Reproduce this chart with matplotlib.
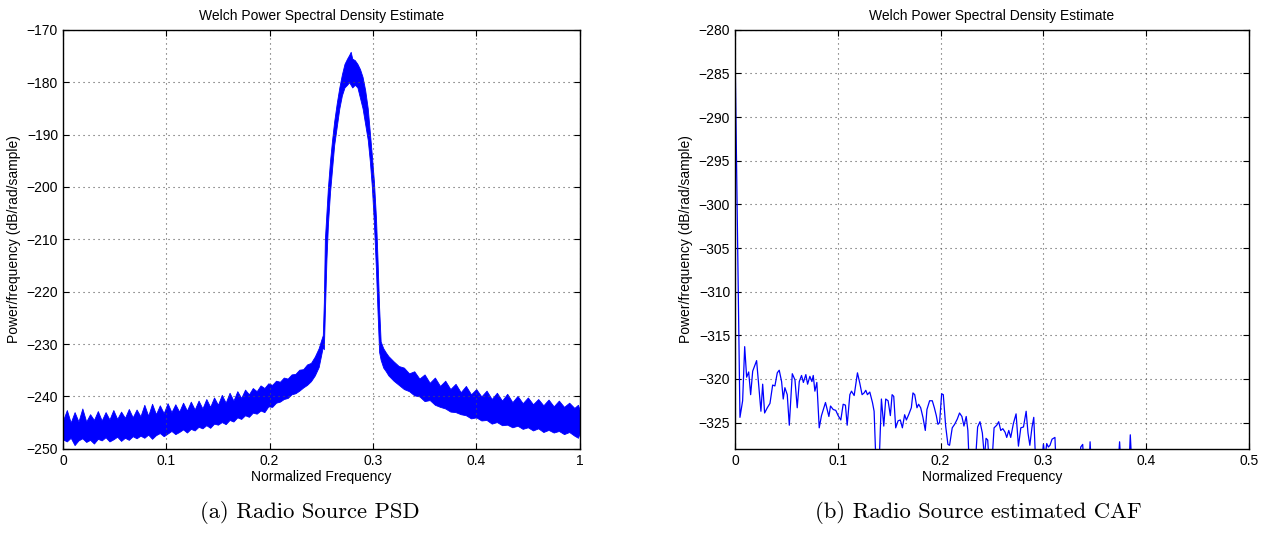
import numpy as np
import matplotlib
matplotlib.use("Agg")
import matplotlib.pyplot as plt
from matplotlib import rcParams

rcParams['font.family'] = 'Liberation Sans'
rcParams['font.size'] = 10
rcParams['axes.unicode_minus'] = True

# ---- (a) PSD band: frequency grid with lower / upper edge of the noisy trace (dB/rad/sample)
psd_freq = [
    0.0, 0.00375, 0.0075, 0.01125, 0.015, 0.01875, 0.0225, 0.02625, 0.03, 0.03375,
    0.0375, 0.04125, 0.045, 0.04875, 0.0525, 0.05625, 0.06, 0.06375, 0.0675, 0.07125,
    0.075, 0.07875, 0.0825, 0.08625, 0.09, 0.09375, 0.0975, 0.10125, 0.105, 0.10875,
    0.1125, 0.11625, 0.12, 0.12375, 0.1275, 0.13125, 0.135, 0.13875, 0.1425, 0.14625,
    0.15, 0.15375, 0.1575, 0.16125, 0.165, 0.16875, 0.1725, 0.17625, 0.18, 0.18375,
    0.1875, 0.19125, 0.195, 0.19875, 0.2025, 0.20625, 0.21, 0.21375, 0.2175, 0.22125,
    0.225, 0.22875, 0.2325, 0.23625, 0.24, 0.24375, 0.2475, 0.25, 0.2515,
    0.2525, 0.2535, 0.255, 0.2565, 0.2585, 0.2605, 0.2625, 0.265, 0.2675, 0.27,
    0.2725, 0.275, 0.277, 0.2785, 0.28, 0.2825, 0.285, 0.2875, 0.29, 0.2925,
    0.295, 0.297, 0.299, 0.301, 0.303, 0.3045, 0.306,
    0.3075, 0.31, 0.3125, 0.315, 0.32, 0.325,
    0.33, 0.335, 0.34, 0.345, 0.35, 0.355, 0.36, 0.365, 0.37, 0.375,
    0.38, 0.385, 0.39, 0.395, 0.40, 0.405, 0.41, 0.415, 0.42, 0.425,
    0.43, 0.435, 0.44, 0.445, 0.45, 0.455, 0.46, 0.465, 0.47, 0.475,
    0.48, 0.485, 0.49, 0.495, 0.4985, 0.5,
]
psd_high = [
    -244.6, -242.6, -245.0, -243.0, -244.8, -242.3, -244.8, -243.4, -244.5, -242.8,
    -244.6, -243.0, -244.4, -242.6, -244.3, -242.9, -244.1, -242.4, -244.0, -242.5,
    -243.8, -241.6, -243.7, -241.4, -243.4, -241.7, -243.2, -241.3, -243.0, -241.5,
    -242.9, -241.2, -242.7, -241.0, -242.5, -240.8, -242.3, -240.5, -242.0, -240.2,
    -241.6, -239.7, -241.2, -239.3, -240.8, -239.0, -240.3, -238.7, -239.6, -238.4,
    -239.0, -237.9, -238.4, -237.5, -237.8, -237.0, -237.2, -236.4, -236.6, -235.8,
    -235.7, -234.9, -234.8, -233.9, -233.6, -232.4, -230.8, -229.2, -228.3,
    -222.0, -210.0, -205.0, -200.0, -195.0, -191.0, -187.5, -184.0, -181.0, -178.5,
    -176.5, -175.5, -174.8, -174.2, -175.5, -175.8, -176.5, -177.5, -179.0, -181.5,
    -185.0, -189.5, -194.0, -199.0, -206.0, -214.0, -223.0,
    -229.5, -230.8, -231.6, -232.3, -233.3, -234.2,
    -234.5, -235.6, -235.2, -236.6, -235.8, -237.4, -236.4, -238.0, -237.0, -238.6,
    -237.6, -239.2, -238.0, -239.6, -238.6, -240.0, -238.9, -240.5, -239.3, -240.8,
    -239.5, -241.1, -239.9, -241.3, -240.2, -241.5, -240.5, -241.7, -240.6, -241.9,
    -240.8, -242.0, -241.2, -242.2, -241.6, -242.5,
]
psd_low = [
    -248.2, -248.6, -247.9, -249.3, -248.4, -248.0, -248.7, -248.3, -249.0, -248.1,
    -248.4, -247.8, -248.6, -248.2, -247.7, -248.5, -247.9, -248.3, -247.6, -248.0,
    -247.5, -247.9, -247.3, -248.1, -247.4, -247.0, -247.6, -247.1, -246.6, -247.2,
    -246.8, -246.3, -246.9, -246.2, -246.5, -245.8, -246.1, -245.5, -246.0, -245.2,
    -245.4, -244.9, -245.3, -244.5, -244.8, -244.0, -244.3, -243.6, -243.9, -243.1,
    -243.3, -242.7, -243.0, -241.9, -242.0, -241.2, -241.0, -240.5, -240.3, -239.6,
    -239.4, -238.9, -238.3, -237.8, -237.1, -236.0, -234.4, -232.0, -230.5,
    -231.0, -224.0, -214.0, -207.0, -201.0, -196.5, -192.0, -188.5, -185.0, -182.5,
    -181.0, -180.5, -180.0, -180.5, -181.0, -180.5, -181.0, -183.0, -185.0, -188.0,
    -191.0, -195.0, -200.0, -207.0, -216.0, -224.0, -231.5,
    -233.0, -234.5, -235.2, -236.0, -237.0, -237.8,
    -238.6, -239.0, -239.8, -240.0, -240.9, -240.7, -241.6, -242.0, -242.3, -242.9,
    -243.0, -243.4, -243.6, -244.2, -244.0, -244.6, -244.5, -245.2, -244.9, -245.5,
    -245.4, -245.9, -245.6, -246.2, -245.9, -246.5, -246.1, -246.8, -246.4, -246.9,
    -246.6, -247.2, -246.8, -247.5, -247.9, -247.1,
]

# ---- (b) estimated CAF trace (values below -328 fall off the axes)
caf_freq = [
    0.0, 0.0048, 0.0074, 0.0094, 0.0113, 0.0133, 0.0152, 0.0172, 0.0210, 0.0252,
    0.0269, 0.0288, 0.0314, 0.0340, 0.0366, 0.0388, 0.0411, 0.0430, 0.0453, 0.0469,
    0.0485, 0.0508, 0.0528, 0.0557, 0.0583, 0.0605, 0.0625, 0.0647, 0.0665, 0.0689,
    0.0706, 0.0728, 0.0748, 0.0761, 0.0777, 0.0796, 0.0819, 0.0841, 0.0880, 0.0913,
    0.0929, 0.0955, 0.0980, 0.1003, 0.1029, 0.1052, 0.1074, 0.1091, 0.1117, 0.1133,
    0.1159, 0.1191, 0.1214, 0.1236, 0.1256, 0.1272, 0.1288, 0.1311, 0.1337, 0.1353,
    0.1375, 0.1398, 0.1424, 0.1447, 0.1466, 0.1489, 0.1511, 0.1528, 0.1544, 0.1563,
    0.1586, 0.1608, 0.1628, 0.1650, 0.1667, 0.1689, 0.1715, 0.1731, 0.1748, 0.1770,
    0.1786, 0.1806, 0.1828, 0.1851, 0.1867, 0.1893, 0.1919, 0.1939, 0.1958, 0.1974,
    0.1990, 0.2010, 0.2026, 0.2049, 0.2071, 0.2087, 0.2113, 0.2136, 0.2162, 0.2184,
    0.2207, 0.2227, 0.2249, 0.2265, 0.2282, 0.2330, 0.2360, 0.2383, 0.2406, 0.2426,
    0.2442, 0.2458, 0.2474, 0.2497, 0.2520, 0.2546, 0.2565, 0.2585, 0.2605, 0.2627,
    0.2643, 0.2663, 0.2682, 0.2708, 0.2734, 0.2757, 0.2780, 0.2806, 0.2832, 0.2850,
    0.2868, 0.2888, 0.2906, 0.2926, 0.2980, 0.3000, 0.3016, 0.3032, 0.3048, 0.3064,
    0.3084, 0.3112, 0.3127, 0.3350, 0.3363, 0.3382, 0.3400, 0.3440, 0.3454, 0.3470,
    0.3720, 0.3741, 0.3760, 0.3829, 0.3845, 0.3865, 0.5,
]
caf_db = [
    -282.2, -324.4, -322.5, -316.3, -319.8, -319.2, -321.8, -319.1, -317.9, -323.7,
    -320.6, -323.9, -323.3, -322.8, -320.7, -320.8, -319.3, -319.0, -320.3, -322.3,
    -321.0, -321.8, -325.3, -319.4, -320.1, -323.3, -320.3, -319.6, -320.4, -319.5,
    -320.6, -319.7, -320.3, -319.6, -321.4, -320.4, -325.6, -324.2, -322.7, -324.3,
    -323.1, -323.5, -323.6, -324.2, -324.7, -322.9, -323.0, -325.3, -321.8, -321.4,
    -321.9, -319.3, -320.5, -321.8, -321.6, -321.3, -321.8, -321.5, -322.7, -323.7,
    -331.0, -331.0, -322.3, -325.4, -322.3, -322.5, -324.2, -321.8, -322.0, -325.6,
    -324.8, -324.7, -325.6, -324.1, -324.7, -324.1, -323.3, -321.6, -321.8, -323.3,
    -322.9, -323.3, -324.4, -325.9, -323.5, -322.5, -322.5, -323.3, -324.2, -325.2,
    -325.0, -321.7, -321.8, -325.4, -327.5, -327.6, -325.6, -325.2, -324.6, -323.9,
    -324.3, -325.4, -324.3, -325.9, -331.0, -331.0, -325.5, -324.9, -326.2, -329.0,
    -326.8, -327.0, -330.0, -330.0, -325.6, -325.3, -324.9, -325.9, -325.7, -326.1,
    -326.7, -325.9, -326.7, -325.1, -324.0, -327.7, -325.6, -325.5, -323.7, -326.2,
    -327.6, -325.6, -324.4, -330.0, -330.0, -327.5, -329.0, -327.4, -327.8, -327.6,
    -326.9, -326.7, -331.0, -331.0, -327.8, -327.5, -331.0, -331.0, -327.2, -331.0,
    -331.0, -327.2, -331.0, -331.0, -326.4, -331.0, -331.0,
]

x_ticks = [0, 0.1, 0.2, 0.3, 0.4, 0.5]
psd_xlabels = ['0', '0.1', '0.2', '0.3', '0.4', '1']
caf_xlabels = ['0', '0.1', '0.2', '0.3', '0.4', '0.5']
title = 'Welch Power Spectral Density Estimate'
ylab = 'Power/frequency (dB/rad/sample)'


def matlab_axes(ax):
    ax.set_title(title, fontsize=10, pad=7)
    ax.set_xlabel('Normalized Frequency', fontsize=10, labelpad=2)
    ax.set_ylabel(ylab, fontsize=10, labelpad=4)
    ax.grid(True, linestyle=(0, (1, 3.5)), color='#555555', linewidth=0.8)
    ax.tick_params(direction='in', top=True, right=True, length=4, width=0.8,
                   labelsize=10)
    for s in ax.spines.values():
        s.set_linewidth(1.0)


fig = plt.figure(figsize=(12.85, 5.42), dpi=100)
ax1 = fig.add_axes([0.049, 0.172, 0.402, 0.773])
ax2 = fig.add_axes([0.572, 0.172, 0.400, 0.773])

ax1.fill_between(psd_freq, psd_low, psd_high, color='#0000ff', lw=0.6,
                 edgecolor='#0000ff')
ax1.set_xlim(0, 0.5)
ax1.set_ylim(-250, -170)
ax1.set_xticks(x_ticks)
ax1.set_xticklabels(psd_xlabels)
ax1.set_yticks(np.arange(-250, -169, 10))
matlab_axes(ax1)

ax2.plot(caf_freq, caf_db, color='#0000ff', lw=0.9)
ax2.set_xlim(0, 0.5)
ax2.set_ylim(-328, -280)
ax2.set_xticks(x_ticks)
ax2.set_xticklabels(caf_xlabels)
ax2.set_yticks(np.arange(-325, -279, 5))
matlab_axes(ax2)

fig.text(310 / 1285, 0.055, '(a) Radio Source PSD', family='cmr10',
         fontsize=16.3, ha='center', va='center')
fig.text(978 / 1285, 0.055, '(b) Radio Source estimated CAF', family='cmr10',
         fontsize=16.3, ha='center', va='center')

fig.savefig('out.png', dpi=100)
